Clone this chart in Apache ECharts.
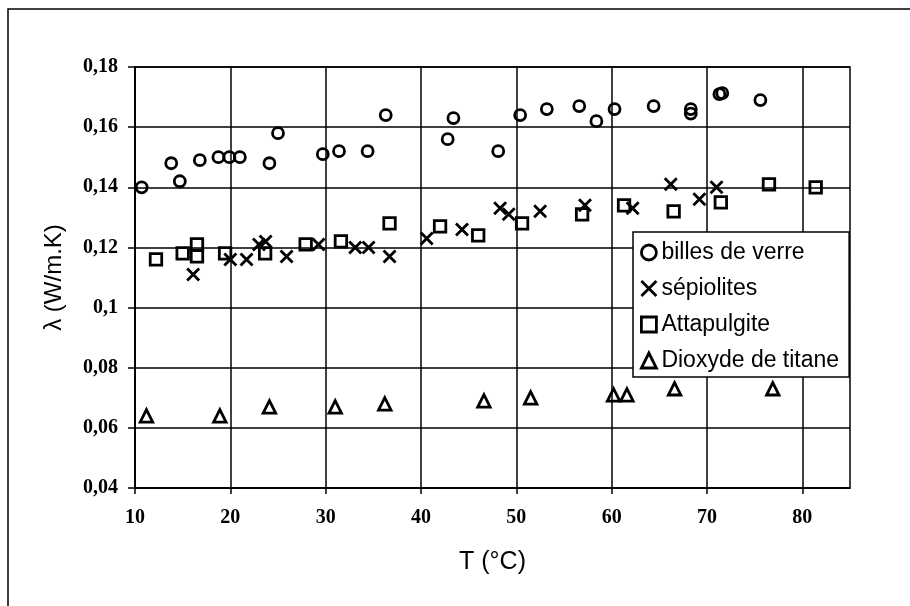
<!DOCTYPE html>
<html>
<head>
<meta charset="UTF-8">
<title>Conductivité thermique</title>
<script src="https://cdn.jsdelivr.net/npm/echarts@6/dist/echarts.min.js"></script>
<style>
    html, body { margin: 0; padding: 0; background: #fff; }
    #main { width: 910px; height: 606px; }
</style>
</head>
<body>
<div id="main"></div>
<script>
    // valeurs : [T (°C), lambda (W/m.K)]
    var billesDeVerre = [
        [10.7, 0.140], [13.8, 0.148], [14.7, 0.142], [16.8, 0.149], [18.75, 0.150],
        [19.9, 0.150], [21.0, 0.150], [24.1, 0.148], [25.0, 0.158], [29.7, 0.151],
        [31.4, 0.152], [34.4, 0.152], [36.3, 0.164], [42.8, 0.156], [43.4, 0.163],
        [48.1, 0.152], [50.4, 0.164], [53.2, 0.166], [56.6, 0.167], [58.4, 0.162],
        [60.3, 0.166], [64.4, 0.167], [68.3, 0.166], [68.3, 0.1645], [71.3, 0.171],
        [71.6, 0.1713], [75.6, 0.169]
    ];
    var sepiolites = [
        [16.1, 0.111], [20.0, 0.116], [21.7, 0.116], [23.0, 0.121], [23.7, 0.122],
        [25.9, 0.117], [29.25, 0.121], [33.1, 0.120], [34.5, 0.120], [36.7, 0.117],
        [40.6, 0.123], [44.3, 0.126], [48.3, 0.133], [49.2, 0.131], [52.5, 0.132],
        [57.2, 0.134], [62.2, 0.133], [66.2, 0.141], [69.2, 0.136], [71.0, 0.140]
    ];
    var attapulgite = [
        [12.2, 0.116], [15.0, 0.118], [16.5, 0.121], [16.5, 0.117], [19.45, 0.118],
        [23.65, 0.118], [27.9, 0.121], [31.6, 0.122], [36.7, 0.128], [42.0, 0.127],
        [46.0, 0.124], [50.6, 0.128], [56.9, 0.131], [61.3, 0.134], [66.5, 0.132],
        [71.45, 0.135], [76.5, 0.141], [81.4, 0.140]
    ];
    var dioxydeDeTitane = [
        [11.2, 0.064], [18.9, 0.064], [24.1, 0.067], [31.0, 0.067], [36.2, 0.068],
        [46.6, 0.069], [51.5, 0.070], [60.2, 0.071], [61.6, 0.071], [66.6, 0.073],
        [76.9, 0.073]
    ];
    var seriesNames = ['billes de verre', 'sépiolites', 'Attapulgite', 'Dioxyde de titane'];
    var xTicks = [10, 20, 30, 40, 50, 60, 70, 80];

    var chart = echarts.init(document.getElementById('main'));

    function makeSeries(name, data, symbol, size) {
        return {
            name: name,
            type: 'scatter',
            data: data,
            symbol: symbol,
            symbolSize: size,
            itemStyle: {
                color: 'rgba(0,0,0,0)',
                borderColor: '#000',
                borderWidth: 2.8,
                opacity: 1
            },
            emphasis: { disabled: true }
        };
    }

    var option = {
        animation: false,
        backgroundColor: '#fff',
        textStyle: { fontFamily: 'Liberation Sans', color: '#000' },
        graphic: [{
            type: 'rect',
            shape: { x: 8, y: 9, width: 1000, height: 1000 },
            style: { fill: 'none', stroke: '#000', lineWidth: 1.5 },
            silent: true
        }],
        grid: {
            left: 135,
            right: 60,
            top: 67,
            bottom: 118,
            show: true,
            borderColor: '#000',
            borderWidth: 1.5
        },
        legend: {
            orient: 'vertical',
            left: 633,
            top: 232,
            padding: [9, 10, 5, 7],
            itemGap: 13,
            itemWidth: 15,
            itemHeight: 15,
            backgroundColor: '#fff',
            borderColor: '#000',
            borderWidth: 1.5,
            data: seriesNames,
            itemStyle: {
                color: 'rgba(0,0,0,0)',
                borderColor: '#000',
                borderWidth: 2.8
            },
            textStyle: {
                fontFamily: 'Liberation Sans',
                fontSize: 23,
                color: '#000'
            }
        },
        xAxis: {
            type: 'value',
            min: 10,
            max: 85,
            interval: 10,
            name: 'T (°C)',
            nameLocation: 'middle',
            nameGap: 62,
            nameTextStyle: { fontFamily: 'Liberation Sans', fontSize: 25, color: '#000' },
            axisLine: { lineStyle: { color: '#000', width: 1.5 } },
            axisTick: { show: true, length: 6, lineStyle: { color: '#000', width: 1.5 }, customValues: xTicks },
            axisLabel: {
                customValues: xTicks,
                margin: 20,
                fontFamily: 'Liberation Serif',
                fontSize: 20,
                fontWeight: 'bold',
                color: '#000'
            },
            splitLine: { show: true, lineStyle: { color: '#000', width: 1.5 } }
        },
        yAxis: {
            type: 'value',
            min: 0.04,
            max: 0.18,
            interval: 0.02,
            name: 'λ (W/m.K)',
            nameLocation: 'middle',
            nameGap: 69,
            nameTextStyle: { fontFamily: 'Liberation Sans', fontSize: 24, color: '#000' },
            axisLine: { show: true, lineStyle: { color: '#000', width: 1.5 } },
            axisTick: { show: true, length: 7, lineStyle: { color: '#000', width: 1.5 } },
            axisLabel: {
                margin: 17,
                fontFamily: 'Liberation Serif',
                fontSize: 20,
                fontWeight: 'bold',
                color: '#000',
                formatter: function (v) {
                    return String(+v.toFixed(2)).replace('.', ',');
                }
            },
            splitLine: { show: true, lineStyle: { color: '#000', width: 1.5 } }
        },
        series: [
            makeSeries(seriesNames[0], billesDeVerre, 'circle', 11),
            makeSeries(seriesNames[1], sepiolites, 'path://M0,0L10,10M10,0L0,10', 12),
            makeSeries(seriesNames[2], attapulgite, 'rect', 11.5),
            makeSeries(seriesNames[3], dioxydeDeTitane, 'triangle', 12.5)
        ]
    };

    chart.setOption(option);
</script>
</body>
</html>
